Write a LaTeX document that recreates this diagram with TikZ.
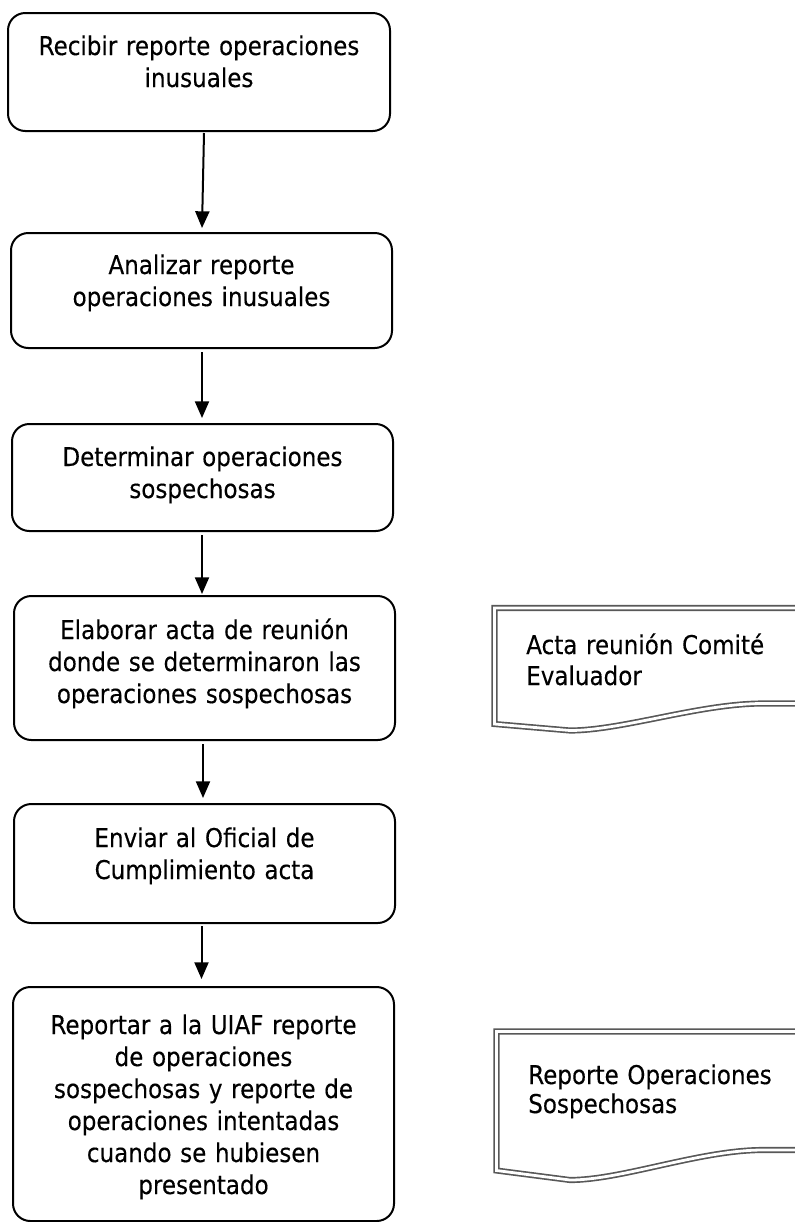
\documentclass[tikz,border=0pt]{standalone}
\usepackage{fontspec}
\setmainfont{DejaVu Sans}[FakeStretch=0.89, FakeBold=0.3]
\usetikzlibrary{arrows.meta,calc}
\definecolor{docgray}{RGB}{88,88,88}

\tikzset{
  stepbox/.style={draw=black, line width=1.5pt, rounded corners=13pt,
    inner sep=0pt, fill=none},
  steptext/.style={text width=285pt, align=center, inner sep=0pt, anchor=base,
    font=\fontsize{19.4pt}{24pt}\selectfont},
  doctext/.style={text width=200pt, align=left, inner sep=0pt, anchor=base west},
  docshape/.style={draw=docgray, line width=1.25pt, double=white,
    double distance=2.1pt, line join=miter},
  flow/.style={draw=black, line width=1.5pt,
    -{Triangle[length=12.5pt,width=10.5pt]}},
}

\begin{document}
\begin{tikzpicture}[x=0.75pt,y=-0.75pt]
  \useasboundingbox (0,0) rectangle (795,1222);
  \clip (0,0) rectangle (795,1222);

  % process steps
  \node[stepbox, minimum width=286.5pt, minimum height=88.5pt]  (b1) at (199,72) {};
  \node[stepbox, minimum width=285.75pt, minimum height=86.25pt] (b2) at (201.5,290.5) {};
  \node[stepbox, minimum width=285.75pt, minimum height=80.25pt] (b3) at (202.5,477.5) {};
  \node[stepbox, minimum width=285.75pt, minimum height=108pt]   (b4) at (204.5,668) {};
  \node[stepbox, minimum width=285.75pt, minimum height=89.25pt] (b5) at (204.5,863.5) {};
  \node[stepbox, minimum width=285.75pt, minimum height=175.5pt] (b6) at (203.5,1104) {};

  \node[steptext] (t1) at (199,55) {Recibir reporte operaciones\\inusuales};
  \node[steptext] (t2) at (201.5,274) {Analizar reporte\\operaciones inusuales};
  \node[steptext] (t3) at (202.5,466) {Determinar operaciones\\sospechosas};
  \node[steptext] (t4) at (204.5,639) {Elaborar acta de reunión\\donde se determinaron las\\operaciones sospechosas};
  \node[steptext] (t5) at (204.5,847) {Enviar al Oficial de\\Cumplimiento acta};
  \node[steptext] (t6) at (203.5,1034) {Reportar a la UIAF reporte\\de operaciones\\sospechosas y reporte de\\operaciones intentadas\\cuando se hubiesen\\presentado};

  % connectors between steps
  \draw[flow] ($(b1.south)+(5,1)$)    -- ($(b2.north)+(0.5,-4)$);
  \draw[flow] ($(b2.south)+(0.5,3)$)  -- ($(b3.north)+(-0.5,-5)$);
  \draw[flow] ($(b3.south)+(-0.5,3)$) -- ($(b4.north)+(-2.5,-1)$);
  \draw[flow] ($(b4.south)+(-1.5,3)$) -- ($(b5.north)+(-1.5,-5)$);
  \draw[flow] ($(b5.south)+(-3,2)$)   -- ($(b6.north)+(-2,-7)$);

  % output documents
  \draw[docshape] (805,608) -- (494.5,608) -- (494.5,724) -- (570,730.5)
    .. controls (622,730.5) and (700,703.5) .. (763,703.5) -- (805,703.5);
  \node[doctext, font=\fontsize{19.4pt}{23.25pt}\selectfont] (d1) at (526,654)
    {Acta reunión Comité\\Evaluador};

  \draw[docshape] (805,1031.5) -- (496.5,1031.5) -- (496.5,1170.5) -- (570,1180)
    .. controls (622,1180) and (700,1150) .. (763,1150) -- (805,1150);
  \node[doctext, font=\fontsize{19.4pt}{21.75pt}\selectfont] (d2) at (528,1084)
    {Reporte Operaciones\\Sospechosas};
\end{tikzpicture}
\end{document}
